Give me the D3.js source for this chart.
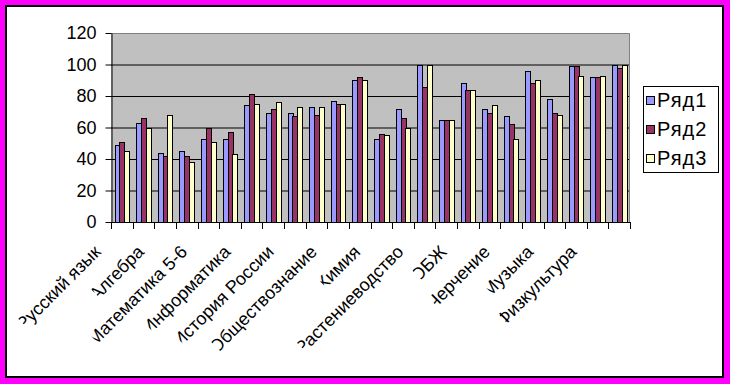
<!DOCTYPE html>
<html>
<head>
<meta charset="utf-8">
<script src="https://cdn.jsdelivr.net/npm/d3@7"></script>
<style>
    body { margin: 0; background: #ff00ff; }
    svg { display: block; font-family: "Liberation Sans", Arial, sans-serif; }
</style>
</head>
<body>
<svg id="chart" width="730" height="384"></svg>
<script>
let subjects = ["Русский язык", "", "Алгебра", "", "Математика 5-6", "", "Информатика", "",
    "История России", "", "Обществознание", "", "Химия", "", "Растениеводство", "",
    "ОБЖ", "", "Черчение", "", "Музыка", "", "Физкультура", ""];
let seriesNames = ["Ряд1", "Ряд2", "Ряд3"];
let row1 = [49, 63, 44, 45, 53, 53, 74, 69, 69, 73, 77, 90, 53, 72, 100, 65, 88, 72, 67, 96, 78, 99, 92, 100];
let row2 = [51, 66, 42, 42, 60, 57, 81, 72, 67, 68, 75, 92, 56, 66, 86, 65, 84, 69, 62, 88, 69, 99, 92, 98];
let row3 = [45, 60, 68, 38, 51, 43, 75, 76, 73, 73, 75, 90, 55, 60, 100, 65, 84, 74, 53, 90, 68, 93, 93, 100];
let yTicks = [0, 20, 40, 60, 80, 100, 120];
let colors = ["#9999ff", "#993366", "#ffffcc"];

let series = [row1, row2, row3];
let cats = subjects.map((s, i) => i);

let svg = d3.select('#chart');

// frame
svg.append("rect").attr("width", 730).attr("height", 384).attr("fill", "#ff00ff");
svg.append("rect")
    .attr("x", 6).attr("y", 6).attr("width", 717).attr("height", 371)
    .attr("fill", "#fff").attr("stroke", "#000").attr("stroke-width", 2);

let plot = {left: 111, right: 630, top: 33, bottom: 222};

let x = d3.scaleBand().domain(cats).range([plot.left, plot.right])
    .paddingInner(1 / 3).paddingOuter(1 / 6);
let xs = d3.scaleBand().domain([0, 1, 2]).range([0, x.bandwidth()]);
let y = d3.scaleLinear().domain([0, 120]).range([plot.bottom, plot.top]);

// plot area
svg.append("rect")
    .attr("x", plot.left).attr("y", plot.top)
    .attr("width", plot.right - plot.left).attr("height", plot.bottom - plot.top)
    .attr("fill", "#c0c0c0");

svg.append("g").selectAll("line")
    .data(yTicks.filter(t => t > 0 && t < 120))
    .enter().append("line")
    .attr("x1", plot.left).attr("x2", plot.right)
    .attr("y1", d => y(d) + 0.5).attr("y2", d => y(d) + 0.5)
    .attr("stroke", "#000");

svg.append("path")
    .attr("d", "M" + plot.left + "," + (plot.top + 0.5) + "H" + (plot.right - 0.5) + "V" + plot.bottom)
    .attr("fill", "none").attr("stroke", "#808080").attr("stroke-width", 1);

// bars
series.forEach((vals, s) => {
    svg.append("g").selectAll("rect")
        .data(vals)
        .enter().append("rect")
        .attr("x", (d, i) => Math.round(x(i) + xs(s)) + 0.5)
        .attr("y", d => Math.round(y(d)) + 0.5)
        .attr("width", Math.round(xs.bandwidth()))
        .attr("height", d => Math.round(y(0)) - Math.round(y(d)))
        .attr("fill", colors[s])
        .attr("stroke", "#000").attr("stroke-width", 1);
});

// y axis
let yAxis = d3.axisLeft(y).tickValues(yTicks).tickSize(6).tickSizeOuter(0).tickPadding(9);
let gy = svg.append("g")
    .attr("transform", "translate(" + (plot.left + 0.5) + ",0)")
    .call(yAxis);
gy.selectAll("text").attr("font-size", 18).attr("fill", "#000")
    .style("font-family", "'Liberation Sans', Arial, sans-serif");
gy.select(".domain").attr("stroke", "#000");

// x axis line and ticks at category borders
let step = x.step();
svg.append("line")
    .attr("x1", plot.left).attr("x2", plot.right)
    .attr("y1", plot.bottom + 0.5).attr("y2", plot.bottom + 0.5)
    .attr("stroke", "#000");
svg.append("g").selectAll("line")
    .data(d3.range(cats.length + 1))
    .enter().append("line")
    .attr("x1", i => Math.round(plot.left + i * step) + 0.5)
    .attr("x2", i => Math.round(plot.left + i * step) + 0.5)
    .attr("y1", plot.bottom).attr("y2", plot.bottom + 7)
    .attr("stroke", "#000");

// category labels, rotated, first glyph clipped a bit like the original
let defs = svg.append("defs");
let labels = svg.append("g").selectAll("g")
    .data(cats.filter(i => subjects[i] !== ""))
    .enter().append("g")
    .attr("transform", i => "translate(" + (x(i) + x.bandwidth() / 2 - 20) + ",253) rotate(-45)");

labels.append("text")
    .attr("text-anchor", "end")
    .attr("font-size", 18)
    .text(i => subjects[i])
    .each(function (i) {
        let len = this.getComputedTextLength();
        defs.append("clipPath").attr("id", "lc" + i)
            .append("rect")
            .attr("x", -len + 5).attr("y", -30)
            .attr("width", len + 10).attr("height", 40);
        d3.select(this).attr("clip-path", "url(#lc" + i + ")");
    });

// legend
let legend = svg.append("g").attr("transform", "translate(643,86)");
legend.append("rect")
    .attr("x", 0.5).attr("y", 0.5).attr("width", 75).attr("height", 86)
    .attr("fill", "#fff").attr("stroke", "#000");

let items = legend.selectAll("g.item")
    .data(seriesNames)
    .enter().append("g")
    .attr("class", "item")
    .attr("transform", (d, i) => "translate(0," + (14 + i * 29) + ")");

items.append("rect")
    .attr("x", 3.5).attr("y", -3.5).attr("width", 8).attr("height", 8)
    .attr("fill", (d, i) => colors[i]).attr("stroke", "#000");

items.append("text")
    .attr("x", 14).attr("y", 7)
    .attr("font-size", 20)
    .attr("letter-spacing", 1)
    .text(d => d);
</script>
</body>
</html>
